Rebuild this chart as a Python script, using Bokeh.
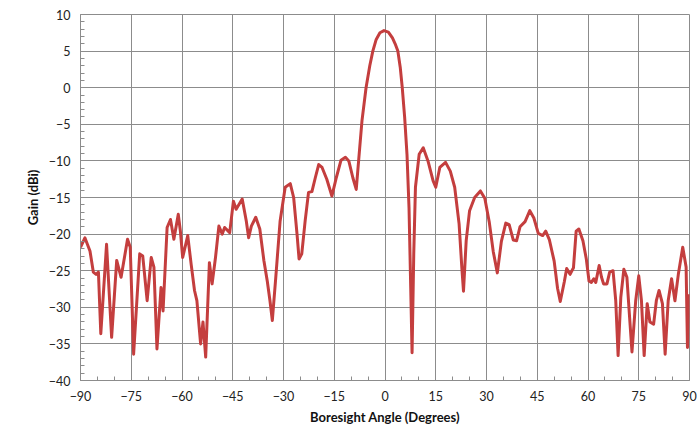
from bokeh.plotting import figure
from bokeh.models import FixedTicker, Range1d
from bokeh.embed import file_html
from bokeh.resources import INLINE

angle = [-90, -88.7, -87.2, -86.2, -85.4, -84.7, -84.0, -82.3, -80.8, -79.3, -78.0, -76.1, -75.3,
         -74.3, -72.5, -71.6, -70.3, -69.1, -68.3, -67.4, -66.2, -65.6, -64.4, -63.4, -62.4, -61.1,
         -60.5, -59.8, -58.3, -57.3, -56.3, -55.6, -54.5, -53.8, -53.0, -51.9, -51.1, -50.1, -49.1,
         -48.1, -47.4, -45.9, -44.8, -44.0, -42.2, -41.0, -40.3, -39.5, -38.2, -37.0, -35.8, -34.8,
         -34.0, -33.3, -32.3, -31.0, -29.5, -28.0, -27.0, -26.0, -25.4, -24.6, -23.6, -22.6, -21.6,
         -20.6, -19.6, -18.6, -17.2, -15.7, -14.4, -13.0, -11.7, -10.7, -9.5, -8.5, -7.8, -6.8,
         -5.6, -4.5, -3.6, -2.6, -1.5, -0.3, 1.0, 2.2, 3.0, 3.8, 4.5, 5.1, 5.8, 6.5, 7.1, 7.6, 8.0,
         8.5, 9.0, 10.1, 11.3, 12.7, 14.2, 15.0, 16.2, 17.9, 19.3, 20.6, 21.9, 22.7, 23.2, 24.0,
         25.0, 26.5, 28.2, 29.5, 30.8, 32.0, 33.2, 34.4, 35.7, 36.7, 37.9, 38.9, 39.9, 41.4, 42.8,
         44.0, 45.3, 46.6, 47.5, 48.6, 50.0, 51.0, 51.8, 53.0, 53.7, 54.7, 55.7, 56.5, 57.3, 58.5,
         59.5, 60.3, 61.0, 61.7, 62.3, 63.3, 64.0, 64.6, 65.6, 66.4, 67.4, 68.2, 68.9, 69.7, 70.6,
         71.5, 72.3, 73.0, 74.1, 75.0, 75.8, 76.6, 77.5, 78.3, 79.4, 80.2, 81.0, 82.0, 82.8, 83.7,
         84.7, 85.7, 86.7, 88.0, 89.0, 89.4, 89.9]
gain = [-21.8, -20.5, -22.3, -25.2, -25.5, -25.2, -33.6, -21.4, -34.1, -23.6, -25.9, -20.7, -21.8,
        -36.4, -22.7, -23.0, -29.1, -23.2, -24.5, -35.7, -27.3, -30.5, -19.1, -18.0, -20.7, -17.3,
        -19.5, -23.2, -20.2, -24.1, -27.7, -29.1, -35.0, -32.0, -36.8, -23.9, -26.8, -23.2, -18.9,
        -20.0, -19.1, -19.8, -15.5, -16.6, -15.2, -18.2, -20.5, -18.9, -17.7, -19.3, -23.6, -26.4,
        -29.1, -31.8, -26.0, -18.2, -13.6, -13.1, -15.0, -20.0, -23.4, -22.7, -18.2, -14.3, -14.2,
        -12.3, -10.5, -10.9, -12.5, -14.8, -12.3, -9.9, -9.5, -10.0, -12.3, -13.9, -10.0, -4.5,
        0.0, 3.0, 5.0, 6.6, 7.5, 7.8, 7.6, 6.8, 6.0, 5.0, 2.8, 0.0, -4.0, -9.1, -16.4, -27.3, -36.2,
        -22.7, -13.6, -9.1, -8.2, -10.0, -12.7, -13.6, -10.9, -10.2, -11.4, -13.6, -18.6, -24.5, -27.8, -20.9,
        -16.8, -15.0, -14.1, -15.1, -18.3, -22.4, -25.3, -21.0, -18.5, -18.7, -20.8, -20.9, -19.0, -18.3, -16.8,
        -17.8, -19.9, -20.2, -19.6, -20.8, -23.7, -27.4, -29.2, -26.5, -24.7, -25.5, -24.6, -19.6, -19.3, -20.9,
        -23.4, -26.4, -26.6, -26.1, -26.6, -24.3, -25.9, -26.8, -26.8, -25.2, -25.0, -29.1, -36.6, -28.6, -24.8,
        -25.9, -31.4, -36.1, -29.1, -25.7, -29.1, -36.6, -29.5, -32.0, -32.3, -29.1, -27.7, -29.5, -36.4, -29.1,
        -26.1, -29.1, -25.5, -21.8, -24.5, -35.5, -28.2]

x_ticks = [-90, -75, -60, -45, -30, -15, 0, 15, 30, 45, 60, 75, 90]
y_ticks = [-40, -35, -30, -25, -20, -15, -10, -5, 0, 5, 10]

FONT = "Lato"
GRID = "#8c8c8c"

p = figure(width=700, height=431, output_backend="svg", toolbar_location=None,
           x_range=Range1d(-90, 90), y_range=Range1d(-40, 10),
           min_border_left=80, min_border_right=11, min_border_top=14, min_border_bottom=51)
p.background_fill_color = "white"
p.border_fill_color = "white"
p.outline_line_color = GRID
p.outline_line_width = 1

p.line(angle, gain, line_color="#C43E3E", line_width=3, line_join="round")

p.xaxis.ticker = FixedTicker(ticks=x_ticks, minor_ticks=list(range(-90, 91, 5)))
p.yaxis.ticker = FixedTicker(ticks=y_ticks, minor_ticks=list(range(-40, 11, 1)))
p.xgrid.ticker = FixedTicker(ticks=x_ticks)
p.ygrid.ticker = FixedTicker(ticks=y_ticks)
p.grid.grid_line_color = GRID
p.grid.grid_line_width = 1
p.grid.grid_line_alpha = 1.0

for ax in (p.xaxis, p.yaxis):
    ax.axis_line_color = GRID
    ax.major_tick_in = 0
    ax.major_tick_out = 0
    ax.minor_tick_in = 4
    ax.minor_tick_out = 0
    ax.minor_tick_line_color = GRID
    ax.major_label_text_font = FONT
    ax.major_label_text_font_size = "12.5px"
    ax.major_label_text_color = "#222222"
    ax.axis_label_text_font = FONT
    ax.axis_label_text_font_size = "13px"
    ax.axis_label_text_font_style = "bold"
    ax.axis_label_text_color = "#111111"

p.xaxis.axis_label = "Boresight Angle (Degrees)"
p.yaxis.axis_label = "Gain (dBi)"
p.xaxis.major_label_standoff = 10
p.yaxis.major_label_standoff = 10
p.xaxis.axis_label_standoff = 5
p.yaxis.axis_label_standoff = 5

open("out.html", "w").write(file_html(p, INLINE))
